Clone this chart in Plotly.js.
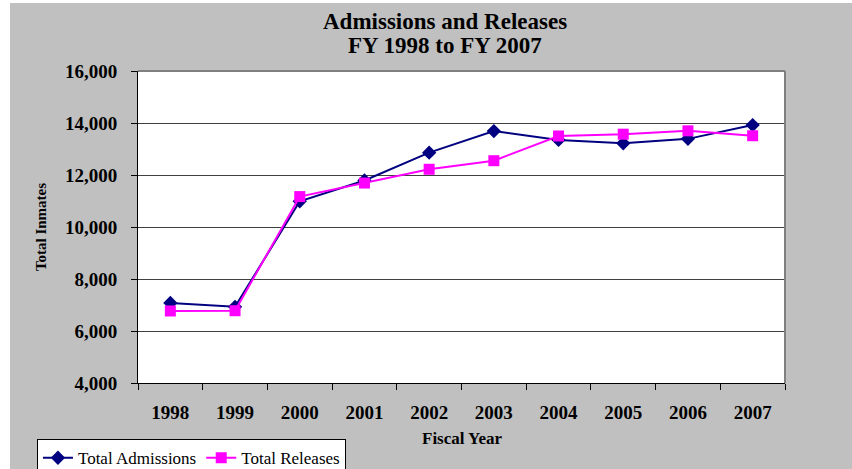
<!DOCTYPE html>
<html>
<head>
<meta charset="utf-8">
<script src="https://cdn.plot.ly/plotly-3.0.1.min.js"></script>
<style>
html,body{margin:0;padding:0;background:#ffffff;}
#chart{position:absolute;left:10px;top:3px;width:842px;height:466px;}
</style>
</head>
<body>
<div id="chart"></div>
<script>
var years = ['1998','1999','2000','2001','2002','2003','2004','2005','2006','2007'];
var admissions = [7080, 6930, 10990, 11790, 12860, 13690, 13350, 13220, 13390, 13920];
var releases = [6770, 6780, 11170, 11690, 12220, 12550, 13500, 13570, 13700, 13510];
var yTickVals = [4000, 6000, 8000, 10000, 12000, 14000, 16000];

var serif = '"Liberation Serif", "Times New Roman", serif';

var traces = [
  {
    x: years, y: admissions, name: 'Total Admissions', type: 'scatter', mode: 'lines+markers',
    line: {color: '#000080', width: 2},
    marker: {symbol: 'diamond', size: 11, color: '#000080'}
  },
  {
    x: years, y: releases, name: 'Total Releases', type: 'scatter', mode: 'lines+markers',
    line: {color: '#ff00ff', width: 2},
    marker: {symbol: 'square', size: 11, color: '#ff00ff'}
  }
];

var layout = {
  width: 842, height: 466,
  paper_bgcolor: '#c0c0c0',
  plot_bgcolor: '#ffffff',
  margin: {l: 128, r: 67, t: 68, b: 86},
  showlegend: true,
  legend: {
    orientation: 'h', xref: 'container', yref: 'container',
    x: 0.032, xanchor: 'left', y: 0.064, yanchor: 'top',
    bgcolor: '#ffffff', bordercolor: '#000000', borderwidth: 1,
    font: {family: serif, size: 17, color: '#000000'},
    tracegroupgap: 0
  },
  xaxis: {
    type: 'category',
    range: [-0.5, 9.5],
    tickson: 'boundaries',
    ticks: 'outside', ticklen: 6, tickcolor: '#000000', tickwidth: 1,
    showline: true, linecolor: '#000000', linewidth: 1,
    showgrid: false, zeroline: false,
    automargin: false,
    ticklabelstandoff: 12,
    tickfont: {family: serif, size: 19, color: '#000000', weight: 'bold'}
  },
  yaxis: {
    range: [4000, 16000],
    tickvals: yTickVals,
    tickformat: ',d',
    ticks: 'outside', ticklen: 6, tickcolor: '#000000', tickwidth: 1,
    showline: true, linecolor: '#000000', linewidth: 1,
    showgrid: true, gridcolor: '#404040', gridwidth: 1,
    zeroline: false,
    automargin: false,
    ticklabelstandoff: 10,
    tickfont: {family: serif, size: 19, color: '#000000', weight: 'bold'},
    title: {text: 'Total Inmates', font: {family: serif, size: 15, color: '#000000', weight: 'bold'}, standoff: 14}
  },
  annotations: [
    {
      text: '<b>Admissions and Releases</b>',
      xref: 'paper', yref: 'paper', x: 0.475, y: 1, xanchor: 'center', yanchor: 'middle',
      yshift: 50, showarrow: false,
      font: {family: serif, size: 23, color: '#000000'}
    },
    {
      text: '<b>FY 1998 to FY 2007</b>',
      xref: 'paper', yref: 'paper', x: 0.475, y: 1, xanchor: 'center', yanchor: 'middle',
      yshift: 26, showarrow: false,
      font: {family: serif, size: 23, color: '#000000'}
    },
    {
      text: '<b>Fiscal Year</b>',
      xref: 'paper', yref: 'paper', x: 0.502, y: 0, xanchor: 'center', yanchor: 'middle',
      yshift: -55, showarrow: false,
      font: {family: serif, size: 17, color: '#000000'}
    }
  ],
  shapes: [
    {type: 'line', xref: 'paper', yref: 'paper', x0: 0, x1: 1, y0: 1, y1: 1, line: {color: '#808080', width: 2}},
    {type: 'line', xref: 'paper', yref: 'paper', x0: 1, x1: 1, y0: 0, y1: 1, line: {color: '#808080', width: 2}}
  ]
};

Plotly.newPlot('chart', traces, layout, {displayModeBar: false, staticPlot: true});
</script>
</body>
</html>
